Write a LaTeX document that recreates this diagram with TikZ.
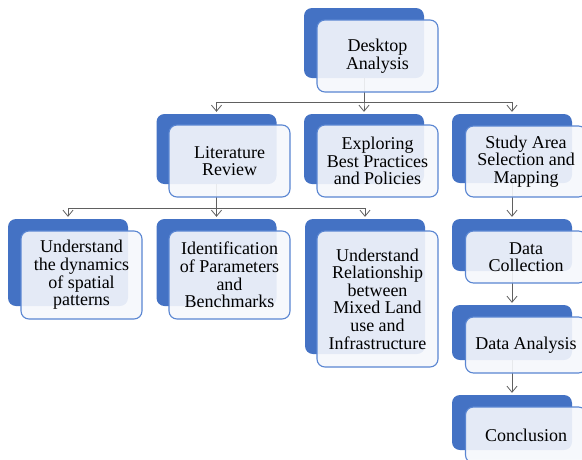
\documentclass[tikz,border=0pt]{standalone}
\usepackage{fontspec}
\setmainfont{Liberation Serif}
\usetikzlibrary{arrows.meta}
\definecolor{accent}{HTML}{4472C4}
\definecolor{rim}{HTML}{5A86D2}
\definecolor{wire}{HTML}{606060}
\definecolor{paper}{HTML}{F6F8FC}
\tikzset{
  backbox/.style={draw=none, fill=accent, rounded corners=8pt,
    minimum width=120pt, inner sep=0pt},
  frontbox/.style={draw=rim, line width=1.1pt, fill=paper, fill opacity=0.9,
    text opacity=1, rounded corners=8pt, minimum width=121pt, inner sep=0pt,
    align=center, text=black, font=\fontsize{18}{17.6}\selectfont},
  link/.style={draw=wire, line width=0.8pt,
    -{Straight Barb[length=6pt,width=10pt]}, shorten >=2pt}
}
\begin{document}
\begin{tikzpicture}[x=1pt, y=-1pt]
  \clip (0,0) rectangle (582,459);
  \fill[white] (0,0) rectangle (582,459);

  % shadow plates behind each step
  \node[backbox, minimum height=70pt] (deskB)  at (364,43)    {};
  \node[backbox, minimum height=70pt] (litB)   at (216.5,149) {};
  \node[backbox, minimum height=70pt] (bestB)  at (364,149)   {};
  \node[backbox, minimum height=69pt] (studyB) at (512,148.5) {};
  \node[backbox, minimum height=87pt] (dynB)   at (68,262.5)  {};
  \node[backbox, minimum height=87pt] (parB)   at (216.5,262.5) {};
  \node[backbox, minimum height=135pt] (relB)  at (365,286.5) {};
  \node[backbox, minimum height=52pt] (collB)  at (512,245)   {};
  \node[backbox, minimum height=55pt] (anaB)   at (512,332.5) {};
  \node[backbox, minimum height=55pt] (conB)   at (512,422.5) {};

  % connectors
  \coordinate (barA) at (364,102);
  \coordinate (barB) at (216.5,208);
  \draw[link] (deskB.south) -- (barA) -| (litB.north);
  \draw[link] (deskB.south) -- (barA) -| (bestB.north);
  \draw[link] (deskB.south) -- (barA) -| (studyB.north);
  \draw[link] (litB.south) -- (barB) -| (dynB.north);
  \draw[link] (litB.south) -- (barB) -| (parB.north);
  \draw[link] (litB.south) -- (barB) -| (relB.north);
  \draw[link] (studyB.south) -- (collB.north);
  \draw[link] (collB.south) -- (anaB.north);
  \draw[link] (anaB.south) -- (conB.north);

  % labelled cards
  \node[frontbox, minimum height=72pt] (deskF) at (377.5,56) {Desktop\\Analysis};
  \node[frontbox, minimum height=72pt] (litF) at (229.5,161) {Literature\\Review};
  \node[frontbox, minimum height=72pt] (bestF) at (377.5,161) {Exploring\\Best Practices\\and Policies};
  \node[frontbox, minimum height=71pt] (studyF) at (526,161.5) {Study Area\\Selection and\\Mapping};
  \node[frontbox, minimum height=88pt] (dynF) at (81.5,275) {Understand\\the dynamics\\of spatial\\patterns};
  \node[frontbox, minimum height=88pt] (parF) at (229.5,275) {Identification\\of Parameters\\and\\Benchmarks};
  \node[frontbox, minimum height=136pt] (relF) at (377.5,299) {Understand\\Relationship\\between\\Mixed Land\\use and\\Infrastructure};
  \node[frontbox, minimum height=52pt] (collF) at (526,257) {Data\\Collection};
  \node[frontbox, minimum height=56pt] (anaF) at (526,345) {Data Analysis};
  \node[frontbox, minimum height=56pt] (conF) at (526,435) {Conclusion};
\end{tikzpicture}
\end{document}
